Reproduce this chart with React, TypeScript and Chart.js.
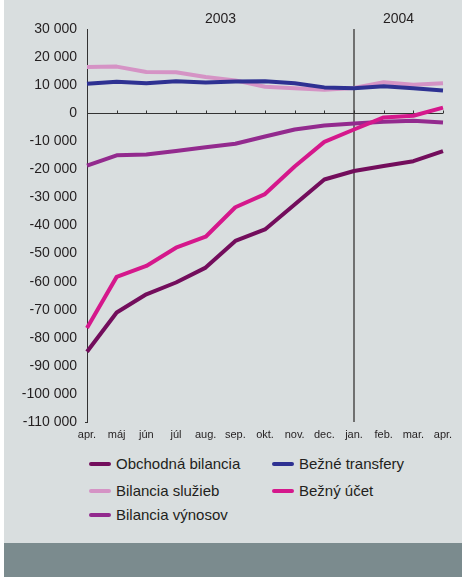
import React, { useEffect, useRef } from "react";
import { Chart, registerables } from "chart.js";

Chart.register(...registerables);

const months = ["apr.", "máj", "jún", "júl", "aug.", "sep.", "okt.", "nov.", "dec.", "jan.", "feb.", "mar.", "apr."];
const years = ["2003", "2004"];
const yearStartIndex = 9;

const obchodnaBilancia = [-85000, -71000, -64500, -60300, -55000, -45500, -41400, -32500, -23600, -20600, -18800, -17100, -13500];
const bilanciaSluzieb = [16500, 16600, 14700, 14600, 12900, 11700, 9400, 8900, 8400, 9000, 11000, 10100, 10700];
const bilanciaVynosov = [-18700, -15000, -14700, -13500, -12100, -10900, -8300, -5800, -4400, -3700, -3000, -2700, -3300];
const bezneTransfery = [10500, 11200, 10700, 11400, 10900, 11300, 11400, 10700, 9200, 8900, 9600, 8900, 8100];
const beznyUcet = [-76500, -58300, -54400, -47900, -44000, -33500, -28800, -19000, -10200, -5800, -1500, -900, 2000];

const C_OBCH = "#730d5c";
const C_SLUZ = "#d593c5";
const C_VYN = "#932a8e";
const C_TRANS = "#2e3192";
const C_UCET = "#d5188c";

const FONT = "'Liberation Sans', Arial, sans-serif";
const TEXT = "#231f20";

const legendItems = [
  { label: "Obchodná bilancia", color: C_OBCH, col: 0, row: 0 },
  { label: "Bežné transfery", color: C_TRANS, col: 1, row: 0 },
  { label: "Bilancia služieb", color: C_SLUZ, col: 0, row: 1 },
  { label: "Bežný účet", color: C_UCET, col: 1, row: 1 },
  { label: "Bilancia výnosov", color: C_VYN, col: 0, row: 2 },
];

function fmt(v: number): string {
  const neg = v < 0;
  const s = String(Math.abs(v)).replace(/\B(?=(\d{3})+(?!\d))/g, " ");
  return (neg ? "-" : "") + s;
}

const decorPlugin = {
  id: "decor",
  beforeDatasetsDraw(chart: any) {
    const { ctx, chartArea, scales } = chart;
    const x = scales.x;
    const y = scales.y;
    ctx.save();
    // vertical year separator
    const xv = Math.round(x.getPixelForValue(yearStartIndex)) + 0;
    ctx.strokeStyle = "#707070";
    ctx.lineWidth = 2;
    ctx.beginPath();
    ctx.moveTo(xv, chartArea.top);
    ctx.lineTo(xv, chartArea.bottom);
    ctx.stroke();
    // zero line with ticks
    const y0 = Math.round(y.getPixelForValue(0)) + 0.5;
    ctx.strokeStyle = "#333333";
    ctx.lineWidth = 1;
    ctx.beginPath();
    ctx.moveTo(chartArea.left, y0);
    ctx.lineTo(chartArea.right, y0);
    for (let i = 1; i < months.length; i++) {
      const xp = Math.round(x.getPixelForValue(i)) + 0.5;
      ctx.moveTo(xp, y0);
      ctx.lineTo(xp, y0 - 3);
    }
    ctx.stroke();
    // small tick at bottom of y axis
    ctx.beginPath();
    ctx.moveTo(chartArea.left - 2, chartArea.bottom + 0.5);
    ctx.lineTo(chartArea.left, chartArea.bottom + 0.5);
    ctx.stroke();
    ctx.restore();
  },
  afterDraw(chart: any) {
    const { ctx, chartArea, scales } = chart;
    const x = scales.x;
    const xs = x.getPixelForValue(0);
    const xm = x.getPixelForValue(yearStartIndex);
    const xe = x.getPixelForValue(months.length - 1);
    ctx.save();
    ctx.fillStyle = TEXT;
    ctx.font = `14px ${FONT}`;
    ctx.textAlign = "center";
    ctx.textBaseline = "middle";
    ctx.fillText(years[0], (xs + xm) / 2, 19);
    ctx.fillText(years[1], (xm + xe) / 2, 19);
    ctx.restore();
  },
};

export default function App() {
  const canvasRef = useRef<HTMLCanvasElement | null>(null);

  useEffect(() => {
    const canvas = canvasRef.current;
    if (!canvas) return;
    const mk = (label: string, data: number[], color: string) => ({
      label,
      data,
      borderColor: color,
      backgroundColor: color,
      borderWidth: 4,
      pointRadius: 0,
      tension: 0,
      fill: false,
      borderJoinStyle: "round" as const,
    });
    const chart = new Chart(canvas, {
      type: "line",
      data: {
        labels: months,
        datasets: [
          mk("Bežný účet", beznyUcet, C_UCET),
          mk("Bežné transfery", bezneTransfery, C_TRANS),
          mk("Obchodná bilancia", obchodnaBilancia, C_OBCH),
          mk("Bilancia výnosov", bilanciaVynosov, C_VYN),
          mk("Bilancia služieb", bilanciaSluzieb, C_SLUZ),
        ],
      },
      options: {
        responsive: false,
        animation: false,
        devicePixelRatio: 1,
        layout: { padding: { top: 29, right: 19, bottom: 0, left: 0 } },
        plugins: {
          legend: { display: false },
          tooltip: { enabled: false },
        },
        scales: {
          x: {
            offset: false,
            grid: { display: false, drawTicks: false },
            border: { display: false },
            ticks: {
              color: TEXT,
              font: { family: FONT, size: 11 },
              padding: 6,
              maxRotation: 0,
              autoSkip: false,
            },
            afterFit(scale: any) {
              scale.height = 30;
            },
          },
          y: {
            min: -110000,
            max: 30000,
            grid: { display: false, drawTicks: false },
            border: { display: true, color: "#333333", width: 1 },
            ticks: {
              stepSize: 10000,
              color: TEXT,
              font: { family: FONT, size: 14 },
              padding: 10,
              callback: (v: any) => fmt(Number(v)),
            },
            afterFit(scale: any) {
              scale.width = 83;
            },
          },
        },
      },
      plugins: [decorPlugin],
    });
    return () => chart.destroy();
  }, []);

  return (
    <div style={{ position: "absolute", left: 0, top: 0, width: 462, height: 577, background: "#ffffff", overflow: "hidden" }}>
      <div style={{ position: "absolute", left: 4, top: 0, width: 458, height: 543, background: "#d9dedf" }} />
      <div style={{ position: "absolute", left: 4, top: 543, width: 458, height: 34, background: "#7b8b8e" }} />
      <canvas
        ref={canvasRef}
        width={458}
        height={452}
        style={{ position: "absolute", left: 4, top: 0, width: 458, height: 452 }}
      />
      {legendItems.map((it) => {
        const left = it.col === 0 ? 89 : 272;
        const cy = [464, 491, 515][it.row];
        return (
          <div
            key={it.label}
            style={{ position: "absolute", left, top: cy - 10, height: 20, display: "flex", alignItems: "center", whiteSpace: "nowrap" }}
          >
            <span style={{ display: "inline-block", width: 22, height: 4, borderRadius: 2, background: it.color }} />
            <span style={{ marginLeft: 5, fontFamily: FONT, fontSize: 15, color: TEXT, lineHeight: "20px" }}>{it.label}</span>
          </div>
        );
      })}
    </div>
  );
}
